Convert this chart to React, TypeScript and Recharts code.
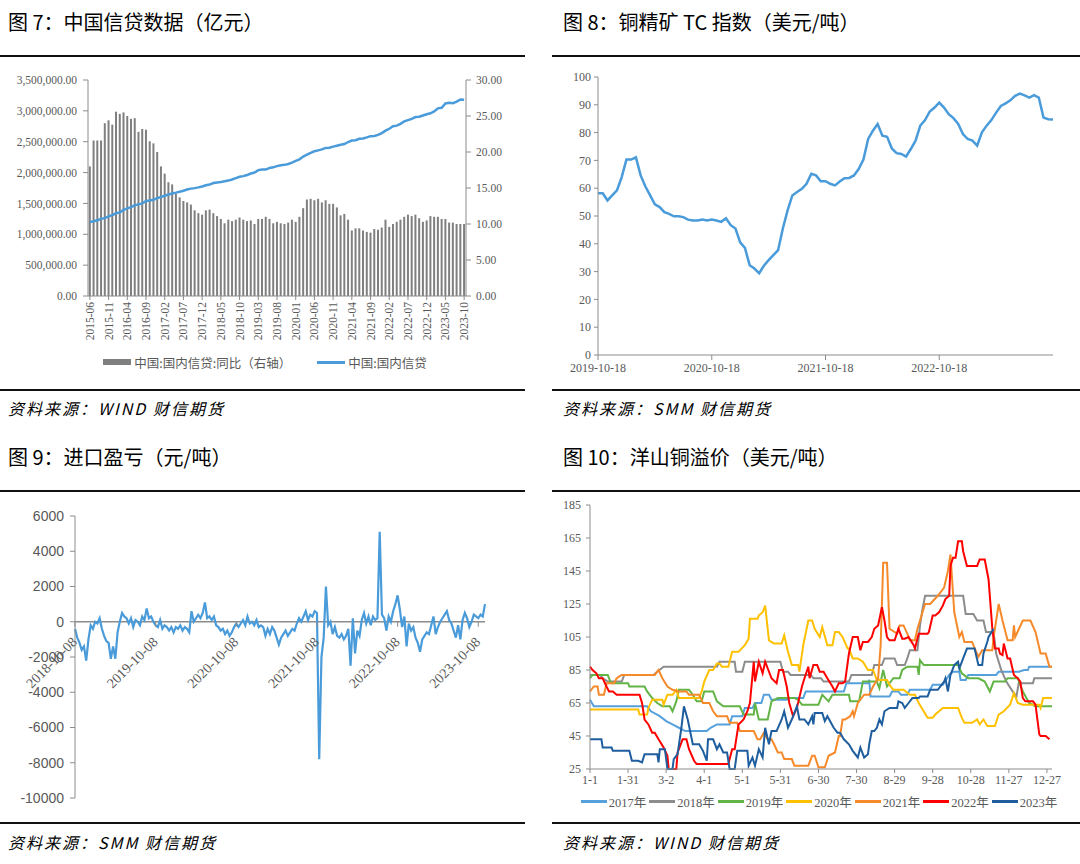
import React from "react";
import { ComposedChart, LineChart, Bar, Line, XAxis, YAxis, ReferenceLine, Legend } from "recharts";

const SERIF = '"Liberation Serif", "Noto Sans CJK SC", serif';
const SANS = '"Liberation Sans", Arial, sans-serif';
const CJK = '"Noto Sans CJK SC", "Noto Sans", sans-serif';
const AXIS = "#8c8c8c";
const TICK = "#595959";
const BLUE = "#4A9BDA";

// 图7 中国信贷数据
const creditMonths = [
  "2015-06", "2015-07", "2015-08", "2015-09", "2015-10", "2015-11", "2015-12",
  "2016-01", "2016-02", "2016-03", "2016-04", "2016-05", "2016-06", "2016-07", "2016-08", "2016-09", "2016-10", "2016-11", "2016-12",
  "2017-01", "2017-02", "2017-03", "2017-04", "2017-05", "2017-06", "2017-07", "2017-08", "2017-09", "2017-10", "2017-11", "2017-12",
  "2018-01", "2018-02", "2018-03", "2018-04", "2018-05", "2018-06", "2018-07", "2018-08", "2018-09", "2018-10", "2018-11", "2018-12",
  "2019-01", "2019-02", "2019-03", "2019-04", "2019-05", "2019-06", "2019-07", "2019-08", "2019-09", "2019-10", "2019-11", "2019-12",
  "2020-01", "2020-02", "2020-03", "2020-04", "2020-05", "2020-06", "2020-07", "2020-08", "2020-09", "2020-10", "2020-11", "2020-12",
  "2021-01", "2021-02", "2021-03", "2021-04", "2021-05", "2021-06", "2021-07", "2021-08", "2021-09", "2021-10", "2021-11", "2021-12",
  "2022-01", "2022-02", "2022-03", "2022-04", "2022-05", "2022-06", "2022-07", "2022-08", "2022-09", "2022-10", "2022-11", "2022-12",
  "2023-01", "2023-02", "2023-03", "2023-04", "2023-05", "2023-06", "2023-07", "2023-08", "2023-09", "2023-10",
];
const creditYoY = [
  18.0, 21.6, 21.6, 21.6, 24.0, 24.4, 23.8, 25.6, 25.3, 25.5,
  25.0, 24.6, 24.7, 22.8, 23.2, 23.1, 21.5, 21.2, 20.0, 18.0,
  17.0, 15.8, 15.5, 14.2, 13.7, 13.2, 13.0, 12.7, 11.9, 11.5,
  11.3, 11.9, 12.0, 11.5, 11.1, 10.7, 10.1, 10.6, 10.4, 10.6,
  10.9, 10.6, 10.4, 10.5, 10.0, 10.7, 10.7, 11.0, 10.7, 10.1,
  10.3, 10.1, 10.0, 10.2, 10.6, 10.3, 11.0, 12.2, 13.4, 13.5,
  13.3, 13.5, 13.0, 13.3, 12.8, 12.8, 12.3, 11.2, 11.4, 10.6,
  9.1, 9.4, 9.4, 9.1, 8.9, 8.8, 9.3, 9.2, 9.5, 10.6,
  9.6, 10.0, 10.3, 10.6, 11.0, 11.3, 11.1, 11.3, 10.8, 10.3,
  10.5, 11.1, 11.0, 11.0, 10.7, 10.7, 10.2, 10.2, 10.0, 10.0, 10.0,
];
const creditTotal = [
  1200000, 1212000, 1228000, 1250000, 1262000, 1290000, 1310000,
  1340000, 1355000, 1395000, 1420000, 1440000, 1470000, 1485000, 1500000, 1540000, 1548000, 1560000, 1585000,
  1605000, 1625000, 1645000, 1662000, 1675000, 1690000, 1705000, 1725000, 1740000, 1748000, 1760000, 1775000,
  1795000, 1805000, 1830000, 1840000, 1848000, 1858000, 1870000, 1888000, 1910000, 1932000, 1942000, 1960000,
  1985000, 2000000, 2040000, 2050000, 2048000, 2075000, 2085000, 2105000, 2120000, 2125000, 2140000, 2160000,
  2190000, 2215000, 2260000, 2290000, 2320000, 2345000, 2360000, 2375000, 2400000, 2402000, 2420000, 2435000,
  2450000, 2462000, 2495000, 2520000, 2525000, 2548000, 2552000, 2570000, 2590000, 2592000, 2610000, 2640000,
  2680000, 2710000, 2750000, 2760000, 2790000, 2830000, 2850000, 2870000, 2900000, 2905000, 2925000, 2945000,
  2960000, 2990000, 3040000, 3050000, 3120000, 3130000, 3125000, 3150000, 3185000, 3180000,
];
const creditLeftTicks = [0, 500000, 1000000, 1500000, 2000000, 2500000, 3000000, 3500000];
const creditRightTicks = [0, 5, 10, 15, 20, 25, 30];

// 图8 铜精矿TC指数 (半月)
const tcTickLabels = ["2019-10-18", "2020-10-18", "2021-10-18", "2022-10-18"];
const tcTicks = [0, 24, 48, 72];
const tcIndex = [
  58.2, 58.2, 55.6, 57.4, 59.2, 64.0, 70.3, 70.3, 71.1, 64.6,
  60.6, 57.4, 54.2, 53.2, 51.4, 50.8, 49.9, 49.9, 49.6, 48.7,
  48.4, 48.4, 48.7, 48.4, 48.7, 48.4, 47.9, 49.2, 46.7, 45.5,
  40.5, 38.5, 32.3, 31.1, 29.4, 32.1, 34.1, 35.9, 37.7, 45.5,
  52.0, 57.4, 58.6, 59.8, 61.6, 65.2, 64.6, 62.5, 62.5, 61.6,
  61.0, 62.4, 63.6, 63.7, 64.6, 66.9, 70.3, 77.7, 80.7, 83.1,
  78.9, 78.5, 74.3, 72.6, 72.3, 71.4, 74.1, 77.1, 82.5, 84.5,
  87.6, 89.0, 90.8, 89.0, 86.6, 85.2, 83.1, 79.5, 77.7, 77.1,
  75.3, 80.1, 82.5, 84.5, 87.2, 89.6, 90.5, 91.6, 93.2, 94.0,
  93.4, 92.6, 93.5, 92.6, 85.4, 84.8, 84.7,
];

// 图9 进口盈亏 (约10日一点)
const importTickLabels = ["2018-10-08", "2019-10-08", "2020-10-08", "2021-10-08", "2022-10-08", "2023-10-08"];
const importTicks = [0, 36, 72, 108, 144, 180];
const importProfit = [
  -400, -900, -1200, -1600, -1400, -2200, -1000, -200, -400, 0,
  -100, 200, -400, -800, -1100, -1200, -2100, -1400, -2100, -600,
  0, 500, 300, 200, -100, 200, -300, 100, 0, -200,
  300, 100, 750, 200, 300, 0, -200, -300, 100, -400,
  -200, -300, -500, -300, -600, -300, -400, -200, -500, -300,
  -400, -600, 600, 0, 200, 400, 200, 500, 1100, 200,
  300, 100, 300, -200, -300, -500, -400, -700, -500, -800,
  -600, -300, -100, -300, -100, 100, -200, 300, -100, 0,
  -200, 100, -300, -200, -300, -800, -400, -700, -300, -500,
  -900, -1300, -900, -700, -500, -800, -600, -400, -500, -100,
  200, 0, 300, 600, 100, 400, 300, 600, 500, -7800,
  -2000, -900, 2000, -200, 0, -700, -300, -800, -900, -700,
  -1000, -800, -400, -2500, 200, -1800, -500, -800, 100, 500,
  -100, 300, -200, 300, 100, 200, 5100, 400, 200, -500,
  300, 0, 600, 1000, 1500, 700, -300, 300, -1400, -100,
  -500, -300, -900, -1200, -1700, -1000, -800, -600, -700, -200,
  300, -700, -300, 0, 200, 400, 600, 100, -100, -500,
  -900, -200, -1000, 100, 500, 200, -300, 0, 400, 300,
  200, 400, 300, 1000,
];
const importYTicks = [-10000, -8000, -6000, -4000, -2000, 0, 2000, 4000, 6000];

// 图10 洋山铜溢价 ([日序, 美元/吨])
const premiumTickLabels = ["1-1", "1-31", "3-2", "4-1", "5-1", "5-31", "6-30", "7-30", "8-29", "9-28", "10-28", "11-27", "12-27"];
const premiumTicks = [0, 30, 60, 90, 120, 150, 180, 210, 240, 270, 300, 330, 360];
const premiumYTicks = [25, 45, 65, 85, 105, 125, 145, 165, 185];
const premium2017: [number, number][] = [
  [0, 67], [3, 63], [45, 63], [48, 60], [55, 57], [60, 54], [65, 52], [70, 50], [75, 48], [92, 48], [95, 50], [100, 52],
  [110, 52], [112, 57], [120, 57], [122, 62], [128, 62], [130, 65], [135, 65], [137, 70], [141, 70], [143, 67], [155, 67],
  [157, 68], [168, 68], [170, 72], [200, 72], [202, 77], [219, 77], [220, 79], [221, 69], [236, 69], [238, 72], [243, 72],
  [245, 70], [250, 70], [252, 73], [268, 73], [270, 76], [278, 76], [283, 82], [286, 84], [291, 84], [292, 79], [296, 79],
  [298, 82], [320, 82], [322, 84], [338, 84], [342, 85], [345, 85], [346, 87], [364, 87],
];
const premium2018: [number, number][] = [
  [0, 82], [8, 82], [10, 80], [14, 78], [25, 78], [27, 82], [50, 82], [53, 84], [58, 87], [100, 87], [102, 90], [114, 90],
  [115, 84], [120, 84], [122, 90], [150, 90], [152, 84], [156, 84], [158, 82], [174, 82], [176, 80], [182, 80], [184, 78],
  [204, 78], [206, 82], [222, 82], [224, 88], [230, 88], [232, 92], [240, 92], [242, 88], [248, 88], [250, 92], [252, 97],
  [258, 97], [260, 112], [262, 122], [264, 130], [294, 130], [296, 119], [302, 119], [305, 115], [310, 115], [312, 108],
  [318, 108], [320, 95], [324, 85], [328, 78], [333, 72], [336, 69], [338, 78], [340, 77], [349, 77], [350, 80], [364, 80],
];
const premium2019: [number, number][] = [
  [0, 80], [2, 82], [14, 82], [16, 78], [17, 77], [30, 77], [31, 75], [43, 75], [45, 72], [49, 68], [53, 65], [57, 63],
  [63, 63], [65, 60], [68, 66], [70, 73], [78, 73], [81, 70], [84, 66], [88, 66], [90, 72], [97, 72], [100, 66], [105, 63],
  [118, 63], [121, 58], [129, 58], [130, 65], [133, 55], [140, 55], [143, 66], [148, 68], [161, 68], [164, 67], [167, 64],
  [180, 64], [183, 70], [188, 66], [191, 70], [204, 70], [205, 66], [212, 66], [215, 78], [226, 78], [228, 74], [231, 85],
  [234, 75], [239, 80], [244, 80], [246, 85], [250, 87], [258, 87], [259, 82], [260, 91], [263, 88], [290, 88], [293, 83],
  [298, 80], [306, 80], [311, 78], [315, 72], [318, 78], [327, 78], [329, 80], [337, 80], [341, 72], [346, 65], [351, 63],
  [364, 63],
];
const premium2020: [number, number][] = [
  [0, 61], [38, 61], [39, 58], [45, 58], [46, 62], [49, 67], [57, 67], [58, 64], [61, 70], [65, 70], [68, 73], [70, 68],
  [86, 68], [88, 72], [90, 78], [94, 85], [97, 85], [100, 89], [102, 89], [104, 87], [109, 87], [112, 96], [117, 96],
  [122, 100], [125, 104], [126, 116], [132, 116], [133, 118], [136, 120], [138, 124], [141, 103], [145, 101], [151, 101],
  [153, 106], [156, 96], [159, 88], [164, 88], [165, 84], [168, 100], [172, 115], [175, 115], [177, 110], [181, 105],
  [183, 111], [187, 100], [191, 100], [193, 108], [196, 108], [199, 105], [203, 98], [204, 98], [207, 92], [211, 92],
  [215, 90], [219, 85], [223, 85], [226, 79], [234, 79], [236, 76], [239, 73], [247, 73], [252, 70], [256, 70], [259, 65],
  [266, 56], [270, 56], [272, 58], [278, 62], [290, 62], [293, 56], [295, 53], [301, 53], [305, 55], [307, 52], [310, 55],
  [313, 51], [319, 51], [322, 58], [326, 60], [331, 64], [334, 71], [337, 65], [341, 64], [354, 64], [355, 62], [357, 68],
  [364, 68],
];
const premium2021: [number, number][] = [
  [0, 72], [3, 75], [6, 75], [7, 70], [11, 70], [13, 77], [19, 77], [21, 80], [25, 82], [51, 82], [54, 85], [57, 80],
  [61, 75], [65, 73], [70, 72], [76, 72], [78, 70], [86, 70], [89, 65], [94, 65], [97, 60], [100, 57], [108, 57], [110, 53],
  [116, 53], [118, 48], [129, 48], [132, 43], [134, 43], [137, 47], [140, 43], [143, 43], [145, 40], [148, 35], [151, 35],
  [153, 31], [159, 31], [161, 27], [172, 27], [175, 33], [177, 33], [180, 26], [185, 26], [188, 33], [193, 35], [196, 45],
  [197, 45], [199, 55], [201, 55], [205, 57], [207, 60], [208, 57], [211, 65], [216, 70], [220, 70], [223, 75], [227, 80],
  [229, 100], [231, 150], [234, 150], [236, 110], [242, 107], [244, 112], [247, 112], [250, 107], [252, 103], [256, 103],
  [258, 110], [262, 120], [264, 125], [268, 125], [274, 130], [279, 135], [282, 145], [284, 155], [287, 120], [291, 105],
  [293, 108], [295, 102], [301, 102], [306, 93], [309, 97], [317, 97], [318, 105], [322, 125], [325, 115], [329, 103],
  [333, 103], [334, 112], [335, 105], [341, 115], [347, 115], [351, 108], [355, 95], [359, 95], [362, 87], [364, 87],
];
const premium2022: [number, number][] = [
  [0, 87], [2, 85], [5, 83], [7, 80], [10, 80], [13, 75], [15, 72], [18, 72], [21, 70], [39, 70], [41, 65], [43, 55],
  [46, 52], [49, 47], [51, 47], [54, 43], [58, 38], [61, 33], [62, 25], [68, 25], [69, 35], [73, 43], [76, 43], [78, 37],
  [82, 30], [84, 28], [109, 28], [112, 37], [114, 37], [117, 52], [121, 55], [124, 60], [126, 65], [129, 90], [130, 78],
  [133, 90], [136, 83], [138, 90], [143, 80], [147, 77], [149, 85], [152, 85], [155, 75], [157, 65], [160, 57], [163, 62],
  [167, 75], [169, 80], [172, 87], [173, 80], [176, 88], [179, 88], [181, 84], [184, 84], [187, 80], [191, 75], [193, 72],
  [196, 77], [199, 77], [201, 78], [204, 95], [207, 105], [211, 105], [213, 97], [215, 102], [219, 102], [222, 105],
  [224, 110], [227, 112], [230, 123], [232, 115], [234, 105], [236, 103], [240, 103], [243, 110], [246, 104], [248, 104],
  [251, 105], [255, 100], [256, 98], [259, 107], [266, 107], [267, 108], [270, 118], [272, 118], [275, 120], [278, 124],
  [280, 128], [283, 130], [284, 148], [286, 153], [288, 153], [290, 163], [293, 163], [294, 157], [297, 148], [305, 148],
  [307, 152], [311, 152], [314, 140], [317, 110], [319, 98], [322, 98], [323, 95], [325, 94], [326, 101], [329, 92],
  [331, 92], [334, 82], [337, 80], [339, 78], [341, 68], [343, 66], [349, 66], [351, 64], [354, 46], [355, 45], [359, 45],
  [362, 43],
];
const premium2023: [number, number][] = [
  [0, 43], [9, 43], [10, 38], [17, 38], [18, 36], [31, 36], [33, 30], [38, 30], [41, 29], [43, 34], [53, 34], [54, 29],
  [55, 37], [59, 37], [61, 25], [65, 25], [66, 31], [69, 34], [72, 50], [74, 63], [77, 55], [81, 40], [86, 40], [89, 36],
  [92, 30], [93, 43], [97, 43], [100, 37], [102, 40], [105, 35], [108, 35], [109, 30], [110, 25], [114, 25], [116, 36],
  [124, 36], [125, 27], [128, 32], [130, 27], [133, 37], [136, 32], [138, 50], [141, 40], [143, 48], [147, 48], [151, 55],
  [153, 60], [156, 50], [159, 55], [163, 63], [165, 55], [169, 55], [172, 52], [175, 57], [176, 52], [177, 59], [183, 59],
  [185, 54], [187, 57], [192, 50], [195, 47], [197, 47], [200, 43], [204, 40], [207, 36], [211, 32], [213, 38], [216, 32],
  [219, 34], [220, 40], [222, 48], [224, 48], [226, 50], [228, 55], [230, 52], [232, 60], [236, 62], [242, 62], [243, 66],
  [246, 65], [248, 62], [251, 65], [254, 68], [259, 68], [260, 69], [266, 69], [268, 73], [274, 73], [279, 78], [280, 80],
  [282, 72], [284, 82], [287, 88], [290, 90], [291, 86], [294, 92], [297, 98], [303, 98], [306, 88], [309, 88], [310, 95],
  [313, 102], [314, 105], [318, 110],
];
const premiumSeries = [
  { name: "2017年", color: "#56A0DC", points: premium2017 },
  { name: "2018年", color: "#8C8C8C", points: premium2018 },
  { name: "2019年", color: "#62B446", points: premium2019 },
  { name: "2020年", color: "#FFC000", points: premium2020 },
  { name: "2021年", color: "#F68A2A", points: premium2021 },
  { name: "2022年", color: "#FF0000", points: premium2022 },
  { name: "2023年", color: "#1F5E9E", points: premium2023 },
];

const creditData = creditMonths.map((m, i) => ({ month: m, yoy: creditYoY[i], total: creditTotal[i] }));
const tcData = tcIndex.map((v, i) => ({ idx: i, tc: v }));
const importData = importProfit.map((v, i) => ({ idx: i, pl: v }));

const tickStyle = { fill: TICK, fontSize: 12, fontFamily: SERIF };

function CreditMonthTick({ x, y, payload }: any) {
  return (
    <g transform={`translate(${x},${y})`}>
      <text x={0} y={0} dy={4} textAnchor="end" transform="rotate(-90)" fill={TICK} fontSize={11.5} fontFamily={SERIF}>
        {payload.value}
      </text>
    </g>
  );
}

function CreditLegend({ payload }: any) {
  // 柱在前，线在后
  const items = [...(payload || [])].sort((a: any, b: any) => (a.type === "rect" ? 0 : 1) - (b.type === "rect" ? 0 : 1));
  return (
    <div style={{ display: "flex", justifyContent: "center", alignItems: "center", gap: 26, height: 28, fontFamily: CJK, fontSize: 12.5, color: TICK, whiteSpace: "nowrap" }}>
      {items.map((p: any) => (
        <span key={p.value} style={{ display: "flex", alignItems: "center" }}>
          <span style={{ display: "inline-block", width: 28, height: p.type === "rect" ? 6 : 3, background: p.color, marginRight: 3 }} />
          {p.value}
        </span>
      ))}
    </div>
  );
}

const IMPORT_TOP = 16;
const IMPORT_PLOT_H = 282;
const importZeroY = IMPORT_TOP + IMPORT_PLOT_H * (6000 / 16000);

function ImportDateTick({ x, payload }: any) {
  const label = importTickLabels[importTicks.indexOf(payload.value)];
  return (
    <g transform={`translate(${x},${importZeroY})`}>
      <line x1={0} y1={0} x2={0} y2={5} stroke={AXIS} />
      <g transform="translate(3,21)">
        <text x={0} y={0} textAnchor="end" transform="rotate(-45)" fill={TICK} fontSize={14} fontFamily={SERIF}>
          {label}
        </text>
      </g>
    </g>
  );
}

function PremiumLegend({ payload }: any) {
  return (
    <div style={{ display: "flex", justifyContent: "center", alignItems: "center", height: 20, paddingLeft: 34, fontFamily: SERIF, fontSize: 12.5, color: TICK, whiteSpace: "nowrap" }}>
      {(payload || []).map((p: any) => (
        <span key={p.value} style={{ display: "flex", alignItems: "center", marginRight: 3, whiteSpace: "nowrap" }}>
          <span style={{ display: "inline-block", width: 26, height: 3, background: p.color, marginRight: 2 }} />
          {p.value}
        </span>
      ))}
    </div>
  );
}

function Title({ left, top, text }: { left: number; top: number; text: string }) {
  return (
    <div style={{ position: "absolute", left, top, fontFamily: CJK, fontSize: 20, lineHeight: "24px", color: "#000", whiteSpace: "nowrap" }}>
      {text}
    </div>
  );
}

function Source({ left, top, text }: { left: number; top: number; text: string }) {
  return (
    <div style={{ position: "absolute", left, top, fontFamily: CJK, fontStyle: "italic", fontSize: 16, letterSpacing: 2, lineHeight: "20px", color: "#000", whiteSpace: "nowrap" }}>
      {text}
    </div>
  );
}

function Rule({ left, top, width }: { left: number; top: number; width: number }) {
  return <div style={{ position: "absolute", left, top, width, height: 2, background: "#111" }} />;
}

export default function App() {
  return (
    <div style={{ position: "absolute", left: 0, top: 0, width: 1080, height: 864, background: "#fff", overflow: "hidden" }}>
      <Title left={8} top={10} text="图 7：中国信贷数据（亿元）" />
      <Title left={563} top={10} text="图 8：铜精矿 TC 指数（美元/吨）" />
      <Rule left={0} top={55} width={525} />
      <Rule left={552} top={55} width={528} />

      <div style={{ position: "absolute", left: 0, top: 60 }}>
        <ComposedChart width={530} height={316} data={creditData} margin={{ top: 20, right: 0, bottom: 0, left: 0 }} barCategoryGap="22%">
          <XAxis dataKey="month" interval={4} height={52} tick={<CreditMonthTick />} tickSize={4} stroke={AXIS} />
          <YAxis
            yAxisId="left"
            width={88}
            domain={[0, 3500000]}
            ticks={creditLeftTicks}
            tickFormatter={(v) => v.toLocaleString("en-US", { minimumFractionDigits: 2, maximumFractionDigits: 2 })}
            tick={{ ...tickStyle, fontSize: 11.5 }}
            tickSize={5}
            tickMargin={6}
            stroke={AXIS}
          />
          <YAxis
            yAxisId="right"
            orientation="right"
            width={64}
            domain={[0, 30]}
            ticks={creditRightTicks}
            tickFormatter={(v) => v.toFixed(2)}
            tick={{ ...tickStyle, fontSize: 11.5 }}
            tickSize={5}
            tickMargin={5}
            stroke={AXIS}
          />
          <Legend verticalAlign="bottom" content={<CreditLegend />} />
          <Bar yAxisId="right" dataKey="yoy" name="中国:国内信贷:同比（右轴）" fill="#7f7f7f" legendType="rect" isAnimationActive={false} />
          <Line yAxisId="left" dataKey="total" name="中国:国内信贷" stroke={BLUE} strokeWidth={2.5} dot={false} legendType="line" isAnimationActive={false} />
        </ComposedChart>
      </div>

      <div style={{ position: "absolute", left: 555, top: 60 }}>
        <LineChart width={525} height={325} data={tcData} margin={{ top: 17, right: 27, bottom: 0, left: 0 }}>
          <XAxis
            dataKey="idx"
            type="number"
            domain={[0, 96]}
            ticks={tcTicks}
            tickFormatter={(v) => tcTickLabels[tcTicks.indexOf(v)]}
            height={30}
            tick={tickStyle}
            tickSize={5}
            tickMargin={3}
            stroke={AXIS}
          />
          <YAxis width={43} domain={[0, 100]} ticks={[0, 10, 20, 30, 40, 50, 60, 70, 80, 90, 100]} tick={tickStyle} tickSize={4} tickMargin={3} stroke={AXIS} />
          <Line dataKey="tc" stroke={BLUE} strokeWidth={2.5} dot={false} isAnimationActive={false} />
        </LineChart>
      </div>

      <Rule left={0} top={389} width={525} />
      <Rule left={552} top={389} width={528} />
      <Source left={8} top={398} text="资料来源：WIND 财信期货" />
      <Source left={563} top={398} text="资料来源：SMM 财信期货" />

      <Title left={8} top={445} text="图 9：进口盈亏（元/吨）" />
      <Title left={563} top={445} text="图 10：洋山铜溢价（美元/吨）" />
      <Rule left={0} top={490} width={525} />
      <Rule left={552} top={490} width={528} />

      <div style={{ position: "absolute", left: 0, top: 500 }}>
        <LineChart width={525} height={310} data={importData} margin={{ top: IMPORT_TOP, right: 40, bottom: 11, left: 0 }}>
          <XAxis dataKey="idx" type="number" domain={[0, 183]} ticks={importTicks} height={1} axisLine={false} tickLine={false} tick={<ImportDateTick />} />
          <YAxis
            width={75}
            domain={[-10000, 6000]}
            ticks={importYTicks}
            tick={{ fill: TICK, fontSize: 14, fontFamily: SANS }}
            tickSize={5}
            tickMargin={6}
            stroke={AXIS}
          />
          <ReferenceLine y={0} stroke={AXIS} strokeWidth={1.5} />
          <Line dataKey="pl" stroke={BLUE} strokeWidth={2.2} dot={false} isAnimationActive={false} />
        </LineChart>
      </div>

      <div style={{ position: "absolute", left: 555, top: 495 }}>
        <LineChart width={525} height={316} margin={{ top: 10, right: 28, bottom: 0, left: 0 }}>
          <XAxis
            dataKey="day"
            type="number"
            domain={[0, 364]}
            ticks={premiumTicks}
            tickFormatter={(v) => premiumTickLabels[premiumTicks.indexOf(v)]}
            height={22}
            tick={tickStyle}
            tickSize={4}
            tickMargin={2}
            stroke={AXIS}
          />
          <YAxis width={35} domain={[25, 185]} ticks={premiumYTicks} tick={tickStyle} tickSize={4} tickMargin={5} stroke={AXIS} />
          <Legend verticalAlign="bottom" content={<PremiumLegend />} />
          {premiumSeries.map((s) => (
            <Line
              key={s.name}
              data={s.points.map(([d, v]) => ({ day: d, v }))}
              dataKey="v"
              name={s.name}
              stroke={s.color}
              strokeWidth={2}
              dot={false}
              isAnimationActive={false}
            />
          ))}
        </LineChart>
      </div>

      <Rule left={0} top={822} width={525} />
      <Rule left={552} top={822} width={528} />
      <Source left={8} top={832} text="资料来源：SMM 财信期货" />
      <Source left={563} top={832} text="资料来源：WIND 财信期货" />
    </div>
  );
}
